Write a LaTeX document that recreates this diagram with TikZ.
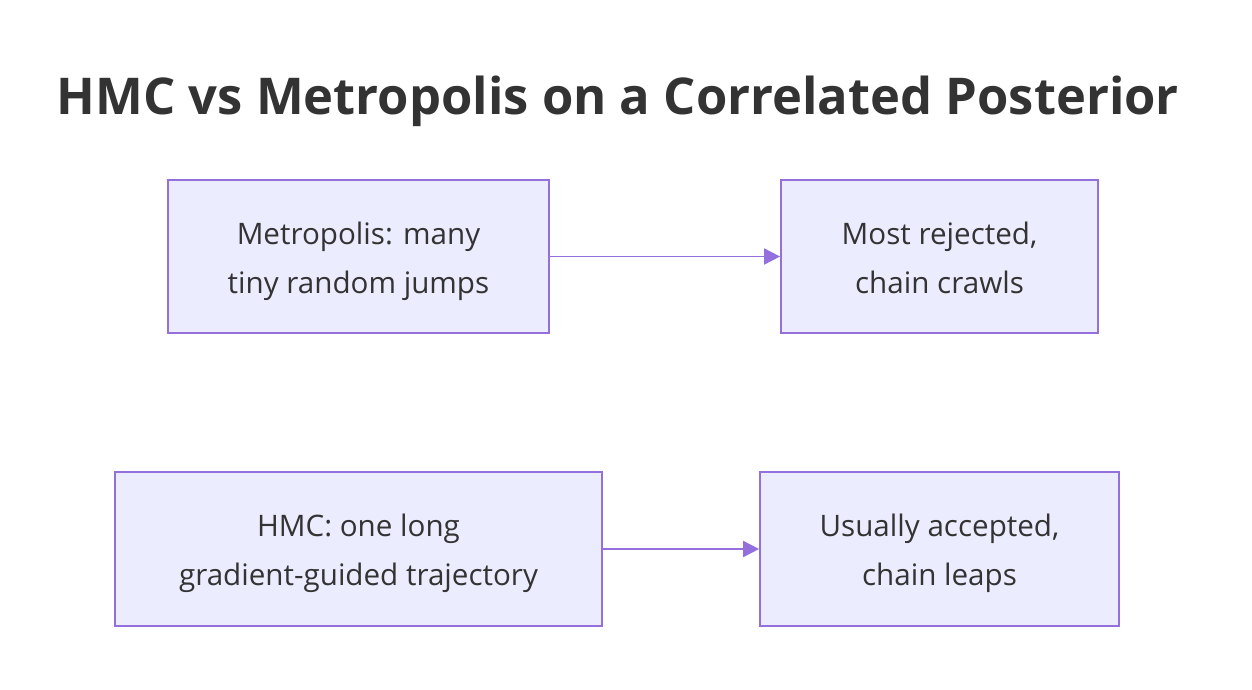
\documentclass[tikz,border=0pt]{standalone}
\usepackage{fontspec}
\setmainfont{Open Sans}
\usetikzlibrary{arrows.meta}
\definecolor{boxfill}{HTML}{ECECFF}
\definecolor{boxline}{HTML}{9370DB}
\definecolor{txt}{HTML}{333333}
\tikzset{
  flowbox/.style={draw=boxline, fill=boxfill, line width=1.7pt, inner sep=0pt},
  boxtext/.style={text=txt, align=center, font=\fontsize{29.6}{49}\selectfont, inner sep=0pt},
  flowarrow/.style={draw=boxline, line width=1.7pt, -{Triangle[length=16pt,width=16pt]}}
}
\begin{document}
\begin{tikzpicture}[x=1pt,y=-1pt]
\useasboundingbox (0,0) rectangle (1252,690);
\node[text=txt, font=\fontsize{50.7}{60}\selectfont\bfseries] (title) at (618,101) {HMC vs Metropolis on a Correlated Posterior};
\node[flowbox, minimum width=381pt, minimum height=153pt] (m) at (358.5,256.5) {};
\node[flowbox, minimum width=317pt, minimum height=153pt] (mr) at (939.5,256.5) {};
\node[flowbox, minimum width=487pt, minimum height=154pt] (h) at (358.5,549) {};
\node[flowbox, minimum width=359pt, minimum height=154pt] (hr) at (939.5,549) {};
\node[boxtext] (mt) at ([yshift=-2.5pt]m.center) {\strut Metropolis: many\\\strut tiny random jumps};
\node[boxtext] (mrt) at ([yshift=-2.5pt]mr.center) {\strut Most rejected,\\\strut chain crawls};
\node[boxtext] (ht) at ([yshift=-2.5pt]h.center) {\strut HMC: one long\\\strut gradient-guided trajectory};
\node[boxtext] (hrt) at ([yshift=-2.5pt]hr.center) {\strut Usually accepted,\\\strut chain leaps};
\draw[flowarrow] (m) -- (mr);
\draw[flowarrow] (h) -- (hr);
\end{tikzpicture}
\end{document}
